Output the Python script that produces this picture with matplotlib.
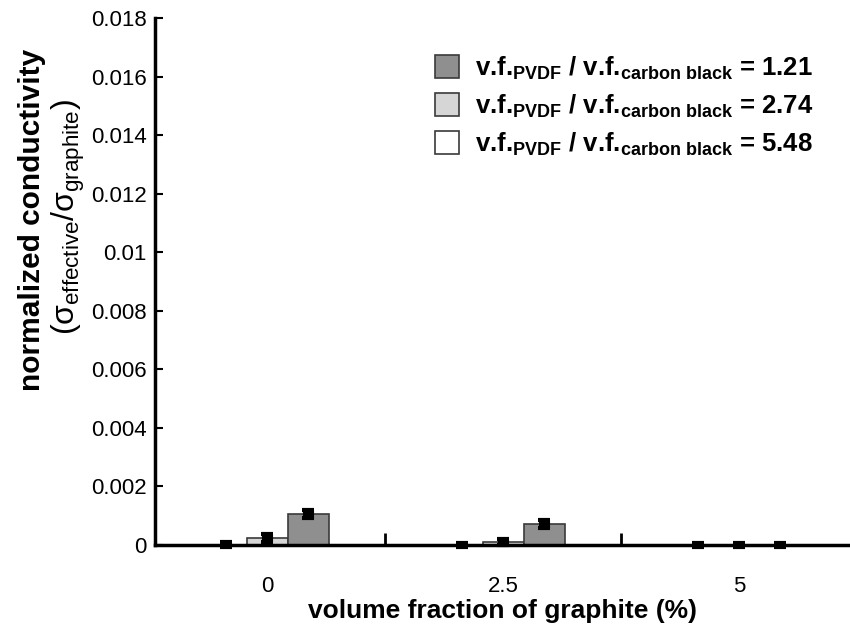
import numpy as np
import matplotlib.pyplot as plt
from matplotlib.ticker import FixedLocator, FuncFormatter

plt.rcParams['font.family'] = ['Liberation Sans', 'DejaVu Sans']
plt.rcParams['mathtext.fontset'] = 'custom'
plt.rcParams['mathtext.rm'] = 'Liberation Sans'
plt.rcParams['mathtext.it'] = 'Liberation Sans'
plt.rcParams['mathtext.bf'] = 'Liberation Sans:bold'

# data
groups = ['0', '2.5', '5']
ratios = ['1.21', '2.74', '5.48']
cond_121 = [0.00106, 0.00072, 0.0]
cond_274 = [0.00024, 0.00010, 0.0]
cond_548 = [0.00001, 0.0, 0.0]
err_121 = [0.00015, 0.00013, 0.00008]
err_274 = [0.00012, 0.00010, 0.00008]
err_548 = [0.00008, 0.00008, 0.00008]
yticks = [0, 0.002, 0.004, 0.006, 0.008, 0.01, 0.012, 0.014, 0.016, 0.018]

fig = plt.figure(figsize=(8.5, 6.37), dpi=100)
ax = fig.add_axes([0.1824, 0.1444, 0.8176, 0.8273])

x = np.arange(len(groups))
w = 0.174
series = [
    (cond_548, err_548, 'white', -w),
    (cond_274, err_274, '#d6d6d6', 0),
    (cond_121, err_121, '#8f8f8f', w),
]
handles = {}
for (vals, errs, col, off), r in zip(series, ['5.48', '2.74', '1.21']):
    b = ax.bar(x + off, vals, width=w, color=col, edgecolor='#3a3a3a', linewidth=1.2, zorder=2)
    ax.errorbar(x + off, vals, yerr=errs, fmt='none', ecolor='black',
                elinewidth=8, capsize=4, capthick=3, zorder=3, clip_on=False)
    handles[r] = b

labels = []
hs = []
for r in ratios:
    hs.append(handles[r])
    labels.append(r'v.f.$_{\mathbf{PVDF}}$ / v.f.$_{\mathbf{carbon\ black}}$ = ' + r)

leg = ax.legend(hs, labels, loc='upper right', bbox_to_anchor=(0.98, 0.975),
                frameon=False, handlelength=0.95, handleheight=0.95,
                handletextpad=0.6, labelspacing=0.42, prop={'weight': 'bold', 'size': 18.5})

ax.set_xlim(-0.475, 2.47)
ax.set_ylim(0, 0.018)
ax.set_xticks(x)
ax.set_xticklabels(groups)
ax.tick_params(axis='x', which='major', length=0, labelsize=16, pad=22)
ax.xaxis.set_minor_locator(FixedLocator([0.5, 1.5]))
ax.tick_params(axis='x', which='minor', direction='in', length=9, width=2)
ax.set_yticks(yticks)
ax.yaxis.set_major_formatter(FuncFormatter(lambda v, p: '%g' % v))
ax.tick_params(axis='y', direction='in', length=6, width=1.5, labelsize=16, pad=6)

for s in ['top', 'right']:
    ax.spines[s].set_visible(False)
ax.spines['left'].set_linewidth(2.5)
ax.spines['bottom'].set_linewidth(2.5)

ax.set_xlabel('volume fraction of graphite (%)', fontsize=19, fontweight='bold', labelpad=2)
fig.text(0.038, 0.655, 'normalized conductivity', rotation=90, ha='center', va='center',
         fontsize=21.5, fontweight='bold')
fig.text(0.08, 0.66, r'($\sigma_{\rm effective}$/$\sigma_{\rm graphite}$)', rotation=90,
         ha='center', va='center', fontsize=23)

fig.savefig('out.png', dpi=100)
